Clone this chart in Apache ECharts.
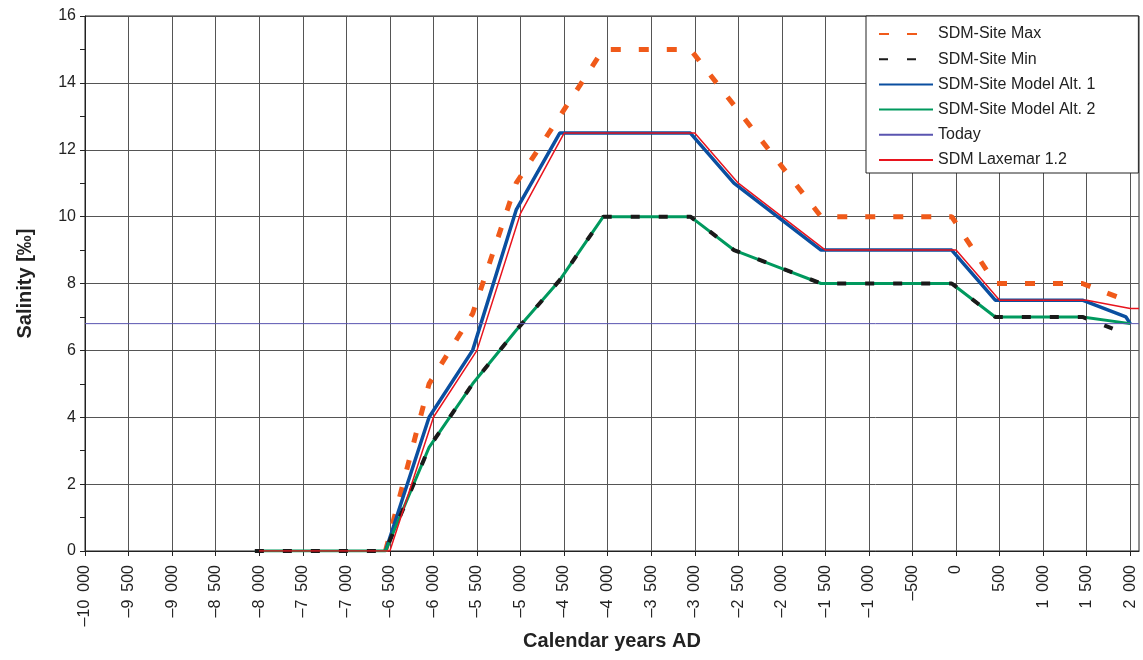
<!DOCTYPE html>
<html>
<head>
<meta charset="UTF-8">
<title>Salinity</title>
<style>
  html, body { margin: 0; padding: 0; background: #fff; }
  #main { width: 1143px; height: 660px; }
</style>
<script src="https://cdn.jsdelivr.net/npm/echarts@6/dist/echarts.min.js"></script>
</head>
<body>
<div id="main"></div>
<script>
// x tick labels (calendar years AD)
var xTicks = [-10000, -9500, -9000, -8500, -8000, -7500, -7000, -6500, -6000, -5500, -5000,
  -4500, -4000, -3500, -3000, -2500, -2000, -1500, -1000, -500, 0, 500, 1000, 1500, 2000];

// series values, [year, salinity]
var siteMax = [[-6550, 0], [-6050, 5], [-5550, 7.1], [-5050, 11], [-4050, 15], [-3050, 15],
  [-1550, 10], [-50, 10], [450, 8], [1450, 8], [1950, 7.5]];
var siteMin = [[-8050, 0], [-6550, 0], [-6050, 3.1], [-5550, 5], [-5050, 6.6], [-4550, 8.1],
  [-4050, 10], [-3050, 10], [-2550, 9], [-2050, 8.5], [-1550, 8], [-50, 8], [450, 7],
  [1450, 7], [1950, 6.5]];
var modelAlt1 = [[-6550, 0], [-6050, 4], [-5550, 6], [-5050, 10.2], [-4550, 12.5], [-3050, 12.5],
  [-2550, 11], [-2050, 10], [-1550, 9], [-50, 9], [450, 7.5], [1450, 7.5], [1950, 7], [2000, 6.8]];
var modelAlt2 = [[-8050, 0], [-6550, 0], [-6050, 3.1], [-5550, 5], [-5050, 6.6], [-4550, 8.1],
  [-4050, 10], [-3050, 10], [-2550, 9], [-2050, 8.5], [-1550, 8], [-50, 8], [450, 7],
  [1450, 7], [2000, 6.8]];
var today = [[-10000, 6.8], [2100, 6.8]];
var laxemar = [[-8000, 0], [-6500, 0], [-6000, 4], [-5500, 6], [-5000, 10.1], [-4500, 12.5],
  [-3000, 12.5], [-2500, 11], [-2000, 10], [-1500, 9], [0, 9], [500, 7.5], [1500, 7.5],
  [2000, 7.25], [2100, 7.25]];

// "-10 000" style, wide gap between thousands like the original
function fmtYear(v) {
  var s = String(Math.abs(v));
  if (s.length > 3) s = s.slice(0, s.length - 3) + '\u2002' + s.slice(s.length - 3);
  return (v < 0 ? '\u2013' : '') + s;
}

var myChart = echarts.init(document.getElementById('main'));
var font = 'Liberation Sans, Arial, sans-serif';

var option = {
  animation: false,
  textStyle: { fontFamily: font },
  grid: {
    left: 85, top: 16, right: 4, bottom: 109,
    outerBoundsMode: 'none',
    show: true, borderColor: '#222', borderWidth: 1
  },
  legend: {
    orient: 'vertical',
    left: 866, top: 16,
    backgroundColor: '#fff',
    borderColor: '#222', borderWidth: 1,
    padding: [8, 43, 3, 12],
    itemWidth: 54, itemHeight: 14, itemGap: 5.2,
    itemStyle: { opacity: 0 },
    textStyle: { fontSize: 16, color: '#222', fontFamily: font, lineHeight: 20 },
    data: ['SDM-Site Max', 'SDM-Site Min', 'SDM-Site Model Alt. 1', 'SDM-Site Model Alt. 2', 'Today', 'SDM Laxemar 1.2']
  },
  xAxis: {
    type: 'value',
    min: -10000, max: 2100,
    name: 'Calendar years AD',
    nameLocation: 'middle',
    nameGap: 80,
    nameMoveOverlap: false,
    nameTextStyle: { fontSize: 20, fontWeight: 'bold', color: '#222', fontFamily: font },
    axisLine: { onZero: false, lineStyle: { color: '#222', width: 1 } },
    axisTick: { show: true, length: 5, customValues: xTicks, lineStyle: { color: '#222' } },
    axisLabel: {
      customValues: xTicks,
      rotate: 90, margin: 14,
      fontSize: 16, color: '#222', fontFamily: font,
      formatter: fmtYear
    },
    splitLine: { show: true, lineStyle: { color: '#555', width: 1 } }
  },
  yAxis: {
    type: 'value',
    min: 0, max: 16, interval: 2,
    name: 'Salinity [‰]',
    nameLocation: 'middle',
    nameGap: 50,
    nameMoveOverlap: false,
    nameTextStyle: { fontSize: 20, fontWeight: 'bold', color: '#222', fontFamily: font },
    axisLine: { show: true, onZero: false, lineStyle: { color: '#222', width: 1 } },
    axisTick: { show: true, length: 5, lineStyle: { color: '#222' } },
    minorTick: { show: true, splitNumber: 2, length: 5, lineStyle: { color: '#222' } },
    axisLabel: { fontSize: 16, color: '#222', margin: 9, fontFamily: font },
    splitLine: { show: true, lineStyle: { color: '#555', width: 1 } }
  },
  series: [
    {
      name: 'SDM-Site Max', type: 'line', data: siteMax, symbol: 'none', z: 2,
      lineStyle: { color: '#F05A1A', width: 5, type: [10, 18] },
      itemStyle: { color: '#F05A1A' }
    },
    {
      name: 'SDM-Site Model Alt. 1', type: 'line', data: modelAlt1, symbol: 'none', z: 3,
      lineStyle: { color: '#0A4FA0', width: 3.5 },
      itemStyle: { color: '#0A4FA0' }
    },
    {
      name: 'SDM-Site Model Alt. 2', type: 'line', data: modelAlt2, symbol: 'none', z: 4,
      lineStyle: { color: '#00995E', width: 3 },
      itemStyle: { color: '#00995E' }
    },
    {
      name: 'SDM-Site Min', type: 'line', data: siteMin, symbol: 'none', z: 5,
      lineStyle: { color: '#1a1a1a', width: 4, type: [9, 19] },
      itemStyle: { color: '#1a1a1a' }
    },
    {
      name: 'Today', type: 'line', data: today, symbol: 'none', z: 6,
      lineStyle: { color: '#5a55b0', width: 1 },
      itemStyle: { color: '#5a55b0' }
    },
    {
      name: 'SDM Laxemar 1.2', type: 'line', data: laxemar, symbol: 'none', z: 7,
      lineStyle: { color: '#E8141E', width: 1.5 },
      itemStyle: { color: '#E8141E' }
    }
  ]
};
myChart.setOption(option);
</script>
</body>
</html>
